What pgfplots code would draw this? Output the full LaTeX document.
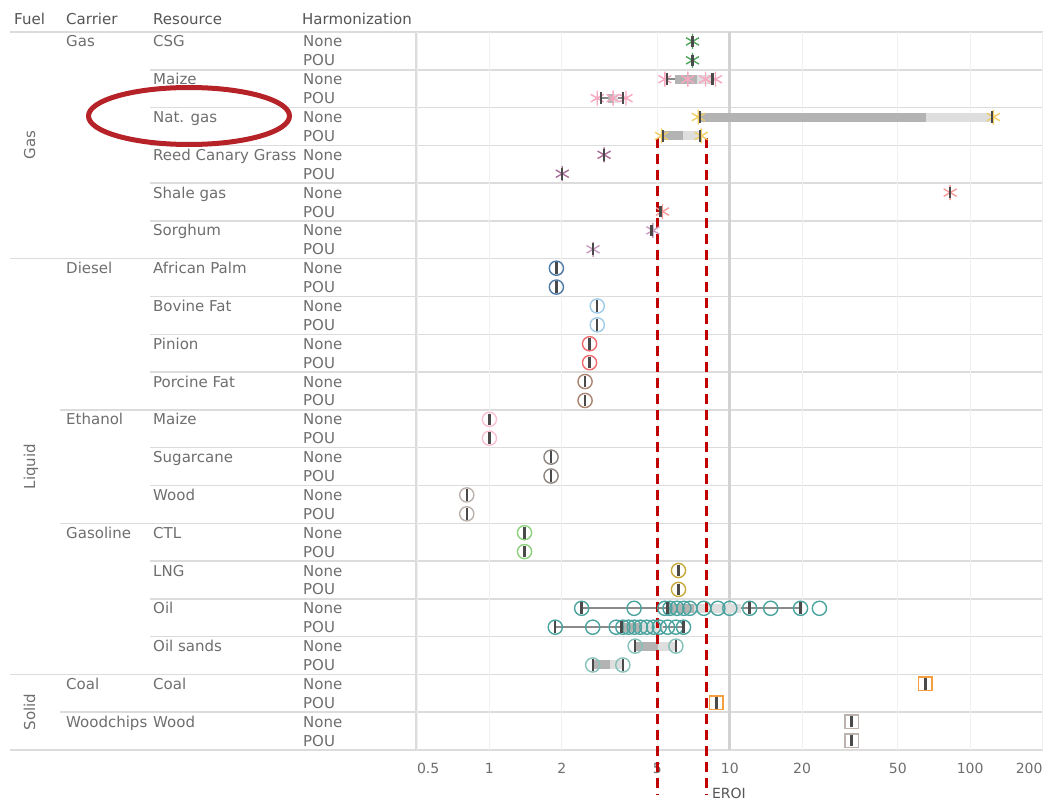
\documentclass[border=0pt]{standalone}
\usepackage{pgfplots}
\pgfplotsset{compat=1.18}
\usepackage{fontspec}
\setmainfont{DejaVu Sans}

\definecolor{txt}{HTML}{6E6E6E}
\definecolor{hdr}{HTML}{555555}
\definecolor{sep}{HTML}{DCDCDC}
\definecolor{gridc}{HTML}{F0F0F0}
\definecolor{tenc}{HTML}{D2D2D2}
\definecolor{capc}{HTML}{4A4A4A}
\definecolor{boxd}{HTML}{B3B3B3}
\definecolor{boxl}{HTML}{DEDEDE}
\definecolor{whk}{HTML}{8A8A8A}
\definecolor{redl}{HTML}{C00000}
\definecolor{ell}{HTML}{B52228}
% resource colours
\definecolor{cCSG}{HTML}{4FA55A}
\definecolor{cMaizeG}{HTML}{F7A8BE}
\definecolor{cNat}{HTML}{F1CE63}
\definecolor{cReed}{HTML}{A9709A}
\definecolor{cShale}{HTML}{F79A98}
\definecolor{cSorg}{HTML}{C99BC0}
\definecolor{cPalm}{HTML}{4E79A7}
\definecolor{cBov}{HTML}{A0CBE8}
\definecolor{cPin}{HTML}{EE6A6C}
\definecolor{cPorc}{HTML}{A88470}
\definecolor{cMaizeE}{HTML}{F8BFD0}
\definecolor{cSug}{HTML}{8E8580}
\definecolor{cWood}{HTML}{BAB0AC}
\definecolor{cCTL}{HTML}{8CD17D}
\definecolor{cLNG}{HTML}{C8A83A}
\definecolor{cOil}{HTML}{4AA39E}
\definecolor{cSands}{HTML}{86C2BA}
\definecolor{cCoal}{HTML}{F5A040}
\definecolor{cChips}{HTML}{BDB3AE}

\pgfplotsset{
  ast/.style={only marks, mark=asterisk, mark size=7.5pt, line width=1.4pt},
  circ/.style={only marks, mark=o, mark size=7.1pt, line width=1.4pt},
  sqr/.style={only marks, mark=square, mark size=6.8pt, line width=1.6pt},
  cap/.style={only marks, mark=|, mark size=5.8pt, line width=2.4pt, color=capc},
  whisk/.style={no marks, line width=1.6pt, color=whk},
  bd/.style={no marks, line width=9pt, color=boxd},
  bl/.style={no marks, line width=9pt, color=boxl},
}
\tikzset{lab/.style={anchor=base west, inner sep=0pt, text=txt, font=\fontsize{15}{18}\selectfont}}

\begin{document}
\begin{tikzpicture}
% table rules
\foreach \k/\xs in {0/10,1/150,2/150,3/150,4/150,5/150,6/10,7/150,8/150,9/150,10/60,11/150,12/150,13/60,14/150,15/150,16/150,17/10,18/60,19/10}
  {\pgfmathsetmacro\yy{-(32+37.79*\k)}
   \draw[sep, line width=1.5pt] (\xs pt,\yy pt) -- (1043pt,\yy pt);}
\draw[sep, line width=1.5pt] (416pt,-31pt) -- (416pt,-750pt);

\begin{axis}[
  at={(416pt,-750pt)}, anchor=south west,
  scale only axis, width=627pt, height=718pt,
  xmode=log, xmin=0.495, xmax=201, ymin=0, ymax=38,
  clip=false,
  axis line style={draw=none},
  ytick=\empty,
  xtick={0.5,1,2,5,10,20,50,100,200},
  xticklabels={\makebox[0pt][l]{0.5},1,2,5,10,20,50,100,\makebox[0pt][r]{200}},
  minor xtick={},
  major tick length=0pt, minor tick length=0pt,
  xmajorgrids, grid style={draw=gridc, line width=1pt},
  ticklabel style={font=\fontsize{14}{16}\selectfont, text=txt},
  xticklabel style={yshift=-10pt},
]
\addplot[draw=tenc, line width=3pt] coordinates {(10,0)(10,38)};

% whiskers
\addplot[whisk] coordinates {(5.47,35.5)(8.48,35.5)};
\addplot[whisk] coordinates {(2.92,34.5)(3.60,34.5)};
\addplot[whisk] coordinates {(2.42,7.5)(19.7,7.5)};
\addplot[whisk] coordinates {(1.88,6.5)(6.42,6.5)};

% boxes: lower hinge to median (dark), median to upper hinge (light)
\addplot[bd] coordinates {(5.91,35.5)(7.30,35.5)};
\addplot[bl] coordinates {(7.30,35.5)(8.34,35.5)};
\addplot[bd] coordinates {(3.12,34.5)(3.30,34.5)};
\addplot[bl] coordinates {(3.30,34.5)(3.43,34.5)};
\addplot[bd] coordinates {(7.51,33.5)(65.5,33.5)};
\addplot[bl] coordinates {(65.5,33.5)(123,33.5)};
\addplot[bd] coordinates {(5.26,32.5)(6.36,32.5)};
\addplot[bl] coordinates {(6.36,32.5)(7.51,32.5)};
\addplot[bd] coordinates {(5.5,7.5)(7.1,7.5)};
\addplot[bl] coordinates {(7.1,7.5)(11.1,7.5)};
\addplot[bd] coordinates {(3.5,6.5)(4.25,6.5)};
\addplot[bl] coordinates {(4.25,6.5)(5.3,6.5)};
\addplot[bd] coordinates {(4.04,5.5)(5.01,5.5)};
\addplot[bl] coordinates {(5.01,5.5)(5.97,5.5)};
\addplot[bd] coordinates {(2.69,4.5)(3.16,4.5)};
\addplot[bl] coordinates {(3.16,4.5)(3.59,4.5)};

% Gas
\addplot[ast, color=cCSG] coordinates {(7,37.5)(7,36.5)};
\addplot[ast, color=cMaizeG] coordinates {(5.37,35.5)(6.69,35.5)(7.93,35.5)(8.72,35.5)(2.81,34.5)(3.27,34.5)(3.70,34.5)};
\addplot[ast, color=cNat] coordinates {(7.4,33.5)(125,33.5)(5.2,32.5)(7.6,32.5)};
\addplot[ast, color=cReed] coordinates {(3.0,31.5)(2.01,30.5)};
\addplot[ast, color=cShale] coordinates {(82.6,29.5)(5.25,28.5)};
\addplot[ast, color=cSorg] coordinates {(4.79,27.5)(2.70,26.5)};

% Liquid
\addplot[circ, color=cPalm] coordinates {(1.90,25.5)(1.90,24.5)};
\addplot[circ, color=cBov] coordinates {(2.81,23.5)(2.81,22.5)};
\addplot[circ, color=cPin] coordinates {(2.61,21.5)(2.61,20.5)};
\addplot[circ, color=cPorc] coordinates {(2.50,19.5)(2.50,18.5)};
\addplot[circ, color=cMaizeE] coordinates {(1.0,17.5)(1.0,16.5)};
\addplot[circ, color=cSug] coordinates {(1.805,15.5)(1.805,14.5)};
\addplot[circ, color=cWood] coordinates {(0.805,13.5)(0.805,12.5)};
\addplot[circ, color=cCTL] coordinates {(1.40,11.5)(1.40,10.5)};
\addplot[circ, color=cLNG] coordinates {(6.12,9.5)(6.12,8.5)};
\addplot[circ, color=cOil] coordinates {
  (2.42,7.5)(4.00,7.5)(5.37,7.5)(5.64,7.5)(6.03,7.5)(6.44,7.5)(6.82,7.5)
  (7.80,7.5)(8.92,7.5)(10.0,7.5)(12.1,7.5)(14.8,7.5)(19.7,7.5)(23.6,7.5)
  (1.88,6.5)(2.69,6.5)(3.37,6.5)(3.59,6.5)(3.79,6.5)(4.01,6.5)(4.25,6.5)
  (4.52,6.5)(4.82,6.5)(5.09,6.5)(5.51,6.5)(5.97,6.5)(6.42,6.5)};
\addplot[circ, color=cSands] coordinates {(4.04,5.5)(5.97,5.5)(2.69,4.5)(3.59,4.5)};

% Solid
\addplot[sqr, color=cCoal] coordinates {(65.1,3.5)(8.79,2.5)};
\addplot[sqr, color=cChips] coordinates {(32.1,1.5)(32.1,0.5)};

% whisker caps / single values
\addplot[cap] coordinates {
  (7,37.5)(7,36.5)(5.47,35.5)(8.48,35.5)(2.92,34.5)(3.60,34.5)
  (7.51,33.5)(123,33.5)(5.26,32.5)(7.51,32.5)(3.0,31.5)(2.01,30.5)
  (82.6,29.5)(5.15,28.5)(4.72,27.5)(2.70,26.5)
  (1.90,25.5)(1.90,24.5)(2.81,23.5)(2.81,22.5)(2.61,21.5)(2.61,20.5)
  (2.50,19.5)(2.50,18.5)(1.0,17.5)(1.0,16.5)(1.805,15.5)(1.805,14.5)
  (0.805,13.5)(0.805,12.5)(1.40,11.5)(1.40,10.5)(6.12,9.5)(6.12,8.5)
  (2.42,7.5)(5.5,7.5)(12.1,7.5)(19.7,7.5)(1.88,6.5)(3.55,6.5)(6.42,6.5)
  (4.04,5.5)(5.97,5.5)(2.69,4.5)(3.59,4.5)
  (65.1,3.5)(8.79,2.5)(32.1,1.5)(32.1,0.5)};

% reference lines
\addplot[redl, line width=2.6pt, dash pattern=on 10pt off 6pt] coordinates {(5,32.39)(5,-2.38)};
\addplot[redl, line width=2.6pt, dash pattern=on 10pt off 6pt] coordinates {(8,32.39)(8,-2.38)};
\end{axis}

% table text
\node[lab, text=hdr] at (14pt,-25pt) {Fuel};
\node[lab, text=hdr] at (66pt,-25pt) {Carrier};
\node[lab, text=hdr] at (153pt,-25pt) {Resource};
\node[lab, text=hdr] at (302pt,-25pt) {Harmonization};
\foreach \k in {0,...,18}
  {\pgfmathsetmacro\ya{-(46.95+37.79*\k)}
   \pgfmathsetmacro\yb{-(65.84+37.79*\k)}
   \node[lab] at (303pt,\ya pt) {None};
   \node[lab] at (303pt,\yb pt) {POU};}
\foreach \k/\r in {0/CSG,1/Maize,2/Nat. gas,3/Reed Canary Grass,4/Shale gas,5/Sorghum,6/African Palm,7/Bovine Fat,8/Pinion,9/Porcine Fat,10/Maize,11/Sugarcane,12/Wood,13/CTL,14/LNG,15/Oil,16/Oil sands,17/Coal,18/Wood}
  {\pgfmathsetmacro\ya{-(46.95+37.79*\k)}
   \node[lab] at (153pt,\ya pt) {\r};}
\foreach \k/\c in {0/Gas,6/Diesel,10/Ethanol,13/Gasoline,17/Coal,18/Woodchips}
  {\pgfmathsetmacro\ya{-(46.95+37.79*\k)}
   \node[lab] at (66pt,\ya pt) {\c};}
\node[lab, rotate=90, anchor=base] at (35pt,-145pt) {Gas};
\node[lab, rotate=90, anchor=base] at (35pt,-466.5pt) {Liquid};
\node[lab, rotate=90, anchor=base] at (35pt,-712pt) {Solid};
\node[text=hdr, font=\fontsize{14}{16}\selectfont] at (729pt,-793pt) {EROI};

% highlight
\draw[ell, line width=5pt] (189pt,-116pt) ellipse [x radius=100.5pt, y radius=28.5pt];

\pgfresetboundingbox
\useasboundingbox (0pt,0pt) rectangle (1043pt,-800pt);
\end{tikzpicture}
\end{document}
